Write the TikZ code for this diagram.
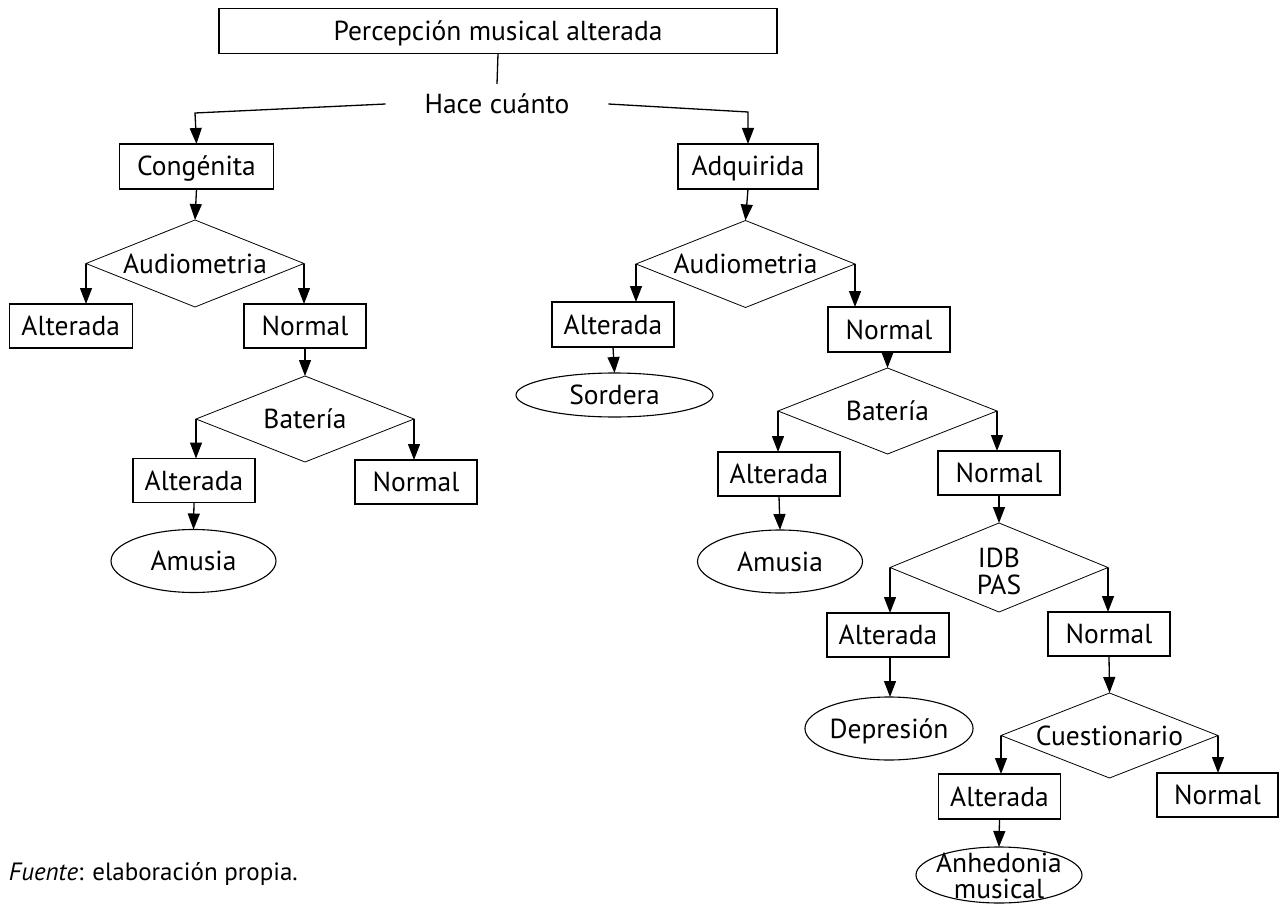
\documentclass[tikz,border=0pt]{standalone}
\usepackage{fontspec}
\setmainfont{PT Sans}
\usetikzlibrary{shapes.geometric,arrows.meta}
\newcommand{\twolines}[3]{\raisebox{#3}[0pt][0pt]{\makebox[0pt]{\begin{tabular}[c]{@{}c@{}}#1\\#2\end{tabular}}}}
\begin{document}
\begin{tikzpicture}[x=1pt,y=-1pt,
  every node/.style={font=\fontsize{27.5}{21}\selectfont, inner sep=0pt, outer sep=0pt, text height=19pt, text depth=0pt},
  box/.style={draw, line width=1.3pt, rectangle, minimum height=44pt},
  dia/.style={draw, line width=0.8pt, diamond, aspect=2.5, minimum width=218pt, minimum height=87pt},
  ell/.style={draw, line width=1.1pt, ellipse, minimum width=165pt, minimum height=63pt},
  arr/.style={line width=1.3pt, -{Triangle[length=16pt,width=12pt]}},
  plain/.style={line width=1.3pt}]
\useasboundingbox (0,0) rectangle (1279,904);
% top
\node[box, minimum width=558pt, minimum height=45pt] (top) at (498,31) {Percepción musical alterada};
\node[inner xsep=39pt, inner ysep=10.5pt] (hace) at (497,104) {Hace cuánto};
\coordinate (bl) at (195,113);
\coordinate (br) at (748,112);
% left column
\node[box, minimum width=154pt, minimum height=45pt] (cong) at (196.5,166.5) {Congénita};
\node[dia] (d1) at (195,263.5) {Audiometria};
\node[box, minimum width=123pt] (alt1) at (70.7,326) {Alterada};
\node[box, minimum width=122pt] (nor1) at (305,326) {Normal};
\node[dia, minimum height=86pt] (d2) at (305,419) {Batería};
\node[box, minimum width=122pt] (alt2) at (194,480.5) {Alterada};
\node[box, minimum width=122pt] (nor2) at (416,482) {Normal};
\node[ell] (amu1) at (193.5,561) {Amusia};
% right column
\node[box, minimum width=140pt, minimum height=45pt] (adq) at (748,166.5) {Adquirida};
\node[dia, minimum width=219pt] (d3) at (745.5,264) {Audiometria};
\node[box, minimum width=122pt, minimum height=45pt] (alt3) at (613,324.5) {Alterada};
\node[ell, minimum width=197pt, minimum height=44pt] (sor) at (614.5,395) {Sordera};
\node[box, minimum width=122pt, minimum height=45pt] (nor3) at (889,329.5) {Normal};
\node[dia, minimum width=219pt, minimum height=86pt] (d4) at (887.5,411) {Batería};
\node[box, minimum width=122pt] (alt4) at (779,474) {Alterada};
\node[ell] (amu2) at (780,561.5) {Amusia};
\node[box, minimum width=122pt] (nor4) at (999,473) {Normal};
\node[dia, minimum height=89pt, font=\fontsize{27.5}{25}\selectfont, text height=0pt, text depth=0pt] (d5) at (999,567.5) {\twolines{IDB}{PAS}{-13.6pt}};
\node[box, minimum width=122pt] (alt5) at (888,635) {Alterada};
\node[ell] (dep) at (889,728.5) {Depresión};
\node[box, minimum width=122pt] (nor5) at (1109,634) {Normal};
\node[dia, minimum width=217pt, minimum height=85pt] (d6) at (1109.5,735.5) {Cuestionario};
\node[box, minimum width=122pt, minimum height=45pt] (alt6) at (999.5,796.5) {Alterada};
\node[ell, minimum width=166pt, minimum height=56pt, font=\fontsize{27.5}{21.5}\selectfont, text height=0pt, text depth=0pt] (anh) at (999,875) {\twolines{Anhedonia}{musical}{-10.4pt}};
\node[box, minimum width=121pt] (nor6) at (1217.5,795) {Normal};
% caption
\node[anchor=base west, font=\fontsize{25}{28}\selectfont, text height=18pt, text depth=6pt] (cap) at (9,880) {\textit{Fuente}: elaboración propia.};
% connectors
\draw[plain] (top.south) -- (hace.north);
\draw[arr] (hace.west) -- (bl) -- (cong.north);
\draw[arr] (hace.east) -- (br) -- (adq.north);
\draw[arr] (cong.south) -- (d1.north);
\draw[arr] (d1.west) -- (d1.west |- alt1.north);
\draw[arr] (d1.east) -- (d1.east |- nor1.north);
\draw[arr] (nor1.south) -- (d2.north);
\draw[arr] (d2.west) -- (d2.west |- alt2.north);
\draw[arr] (d2.east) -- (d2.east |- nor2.north);
\draw[arr] (alt2.south) -- (amu1.north);
\draw[arr] (adq.south) -- (d3.north);
\draw[arr] (d3.west) -- (d3.west |- alt3.north);
\draw[arr] (alt3.south) -- (sor.north);
\draw[arr] (d3.east) -- (d3.east |- nor3.north);
\draw[arr] (nor3.south -| d4.north) -- (d4.north);
\draw[arr] (d4.west) -- (d4.west |- alt4.north);
\draw[arr] (d4.east) -- (d4.east |- nor4.north);
\draw[arr] (alt4.south) -- (amu2.north);
\draw[arr] (nor4.south) -- (d5.north);
\draw[arr] (d5.west) -- (d5.west |- alt5.north);
\draw[arr] (d5.east) -- (d5.east |- nor5.north);
\draw[arr] (alt5.south -| d5.west) -- (dep.north -| d5.west);
\draw[arr] (nor5.south) -- (d6.north);
\draw[arr] (d6.west) -- (d6.west |- alt6.north);
\draw[arr] (d6.east) -- (d6.east |- nor6.north);
\draw[arr] (alt6.south) -- (anh.north);
\end{tikzpicture}
\end{document}
